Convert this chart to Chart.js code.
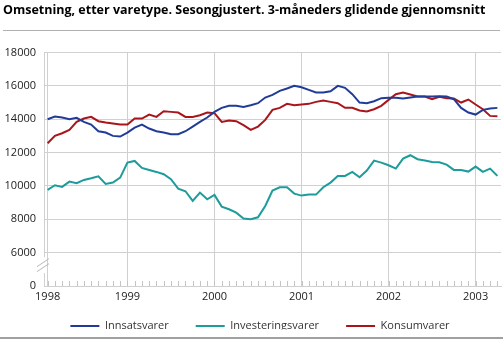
<!DOCTYPE html>
<html><head><meta charset="utf-8">
<script src="https://cdn.jsdelivr.net/npm/chart.js@4.4.1/dist/chart.umd.min.js"></script>
<style>html,body{margin:0;padding:0;background:#fff;}#wrap{width:503px;height:339px;position:relative;}</style>
</head><body><div id="wrap"><canvas id="c"></canvas></div>
<script>
const months = [
 "1998M02","1998M03","1998M04","1998M05","1998M06","1998M07","1998M08","1998M09","1998M10","1998M11","1998M12",
 "1999M01","1999M02","1999M03","1999M04","1999M05","1999M06","1999M07","1999M08","1999M09","1999M10","1999M11","1999M12",
 "2000M01","2000M02","2000M03","2000M04","2000M05","2000M06","2000M07","2000M08","2000M09","2000M10","2000M11","2000M12",
 "2001M01","2001M02","2001M03","2001M04","2001M05","2001M06","2001M07","2001M08","2001M09","2001M10","2001M11","2001M12",
 "2002M01","2002M02","2002M03","2002M04","2002M05","2002M06","2002M07","2002M08","2002M09","2002M10","2002M11","2002M12",
 "2003M01","2003M02","2003M03","2003M04"];
const innsatsvarer = [14000,14160,14100,14000,14080,13840,13680,13280,13200,13000,12960,
 13200,13500,13680,13440,13280,13200,13100,13100,13280,13560,13840,14100,
 14440,14680,14800,14800,14740,14840,14960,15300,15460,15700,15840,16000,
 15920,15760,15600,15600,15680,16000,15880,15500,15000,14960,15080,15260,
 15280,15280,15240,15300,15360,15360,15360,15380,15360,15200,14680,14400,
 14280,14560,14640,14680];
const investeringsvarer = [9760,10040,9940,10260,10160,10360,10460,10580,10120,10200,10500,
 11400,11500,11080,10960,10840,10700,10400,9840,9680,9100,9600,9200,
 9460,8760,8600,8400,8040,8000,8120,8800,9720,9920,9920,9540,
 9420,9480,9480,9920,10200,10600,10600,10840,10520,10920,11520,11400,
 11240,11040,11640,11840,11600,11520,11440,11420,11280,10960,10960,10860,
 11160,10840,11040,10600];
const konsumvarer = [12560,13000,13160,13360,13840,14040,14140,13880,13800,13740,13680,
 13680,14040,14040,14280,14140,14480,14440,14400,14140,14140,14240,14400,
 14360,13840,13920,13880,13640,13360,13560,13960,14560,14680,14920,14840,
 14880,14920,15040,15120,15040,14960,14680,14680,14520,14460,14600,14800,
 15160,15500,15600,15480,15360,15360,15200,15340,15260,15240,15000,15180,
 14880,14600,14200,14180];
const seriesNames = ["Innsatsvarer","Investeringsvarer","Konsumvarer"];
const seriesColors = ["#213c96","#1c9c9a","#a8161b"];
const tickMonths = ["1998M02","1999M01","2000M01","2001M01","2002M01","2003M01"];
const tickLabels = ["1998","1999","2000","2001","2002","2003"];
const yMin = 4000, yMax = 18000, yStep = 2000;
const yBreakLabel = "0";
const titleText = "Omsetning, etter varetype. Sesongjustert. 3-måneders glidende gjennomsnitt";

const GRID = '#d0d0d0';
const FONT = "'Open Sans', sans-serif";

const decor = {
  id: 'decor',
  afterLayout(chart) {
    const lg = chart.legend;
    if (lg) { lg.left += 16; lg.top -= 9.5; lg.bottom -= 9.5; }
  },
  beforeDraw(chart) {
    const ctx = chart.ctx;
    ctx.save();
    ctx.fillStyle = '#fff';
    ctx.fillRect(0, 0, chart.width, chart.height);
    ctx.strokeStyle = '#b0b0b0'; ctx.lineWidth = 1;
    ctx.beginPath(); ctx.moveTo(3, 30.5); ctx.lineTo(500, 30.5); ctx.stroke();
    ctx.strokeStyle = '#a0a0a0'; ctx.lineWidth = 2;
    ctx.beginPath(); ctx.moveTo(0, 338); ctx.lineTo(chart.width, 338); ctx.stroke();
    ctx.restore();
  },
  afterDatasetsDraw(chart) {
    const ctx = chart.ctx, xs = chart.scales.x, ys = chart.scales.y, ca = chart.chartArea;
    ctx.save();
    ctx.strokeStyle = '#c4c4c4'; ctx.lineWidth = 1;
    ctx.beginPath();
    for (let i = 0; i < months.length; i++) {
      const px = Math.round(xs.getPixelForValue(i)) + 0.5;
      ctx.moveTo(px, ca.bottom); ctx.lineTo(px, ca.bottom - 5);
    }
    ctx.stroke();
    const yTop = ys.getPixelForValue(5720), yBot = ys.getPixelForValue(4780);
    ctx.fillStyle = '#fff';
    ctx.fillRect(ca.left - 2, yTop, 4, yBot - yTop);
    const yc = ys.getPixelForValue(5250);
    ctx.strokeStyle = '#b8b8b8'; ctx.lineWidth = 1;
    ctx.beginPath();
    for (const d of [-2.5, 2.5]) {
      ctx.moveTo(ca.left - 7, yc + d + 4);
      ctx.lineTo(ca.left + 5, yc + d - 4);
    }
    ctx.stroke();
    ctx.restore();
  }
};

const datasets = [innsatsvarer, investeringsvarer, konsumvarer].map((d, k) => ({
  label: seriesNames[k], data: d,
  borderColor: seriesColors[k], backgroundColor: seriesColors[k],
  borderWidth: 2, pointRadius: 0, tension: 0, fill: false
}));

new Chart(document.getElementById('c'), {
  type: 'line',
  data: { labels: months, datasets },
  plugins: [decor],
  options: {
    responsive: true, maintainAspectRatio: false, animation: false,
    layout: { padding: { left: 3, right: 2, top: 0, bottom: 0 } },
    plugins: {
      title: { display: true, text: titleText, align: 'start', color: '#000',
        font: { family: FONT, size: 12.5, weight: 'bold' }, padding: { top: 3, bottom: 34.5 } },
      legend: { position: 'bottom', maxHeight: 36,
        labels: { boxWidth: 29, boxHeight: 2, color: '#333', padding: 27,
          font: { family: FONT, size: 11 },
          generateLabels(chart) {
            return Chart.defaults.plugins.legend.labels.generateLabels(chart).map(l => ({ ...l, lineWidth: 0 }));
          } } },
      tooltip: { enabled: false }
    },
    scales: {
      x: { type: 'category', offset: true,
        afterFit(s) { s.height = 17; },
        grid: { drawTicks: false,
          color: c => (c.tick && tickMonths.includes(months[c.tick.value])) ? GRID : 'rgba(0,0,0,0)' },
        border: { color: GRID },
        ticks: { autoSkip: false, maxRotation: 0, padding: 4, color: '#222',
          font: { family: FONT, size: 11 },
          callback: (v, i) => { const j = tickMonths.indexOf(months[v]); return j >= 0 ? tickLabels[j] : ''; } } },
      y: { min: yMin, max: yMax,
        afterFit(s) { s.width = 41; },
        grid: { drawTicks: false, color: GRID },
        border: { color: GRID },
        ticks: { stepSize: yStep, padding: 8, color: '#222',
          font: { family: FONT, size: 11 },
          callback: v => v === yMin ? yBreakLabel : String(v) } }
    }
  }
});
</script></body></html>
